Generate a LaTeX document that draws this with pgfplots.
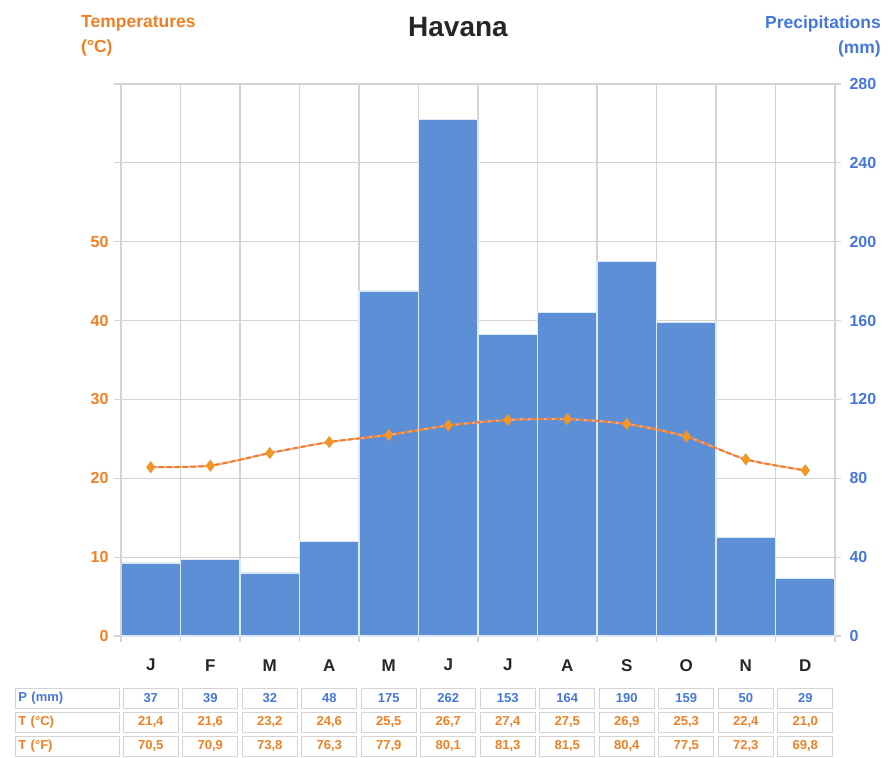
\documentclass[border=0pt]{standalone}
\usepackage{pgfplots}
\pgfplotsset{compat=1.18}
\usepackage{pgfplotstable}
\usepackage{fontspec}
\setmainfont{Liberation Sans}
\definecolor{tor}{RGB}{240,128,36}
\definecolor{tmk}{RGB}{242,150,40}
\definecolor{tsal}{RGB}{238,170,150}
\definecolor{pbar}{RGB}{92,143,214}
\definecolor{ptx}{RGB}{70,118,222}
\definecolor{gr}{RGB}{212,212,212}
\tikzset{cell/.style={draw=gr, line width=0.8pt, minimum width=55pt, minimum height=20pt, inner sep=0pt, font=\bfseries\fontsize{13}{15}\selectfont, anchor=center}}

\pgfplotstableread{
x P T F
0.5 37 21,4 70,5
1.5 39 21,6 70,9
2.5 32 23,2 73,8
3.5 48 24,6 76,3
4.5 175 25,5 77,9
5.5 262 26,7 80,1
6.5 153 27,4 81,3
7.5 164 27,5 81,5
8.5 190 26,9 80,4
9.5 159 25,3 77,5
10.5 50 22,4 72,3
11.5 29 21,0 69,8
}\tablelabels

\pgfplotstableread{
x P
0 37
1 39
2 32
3 48
4 175
5 262
6 153
7 164
8 190
9 159
10 50
11 29
12 29
}\precip

\pgfplotstableread{
x T
0.5 21.4
1.5 21.6
2.5 23.2
3.5 24.6
4.5 25.5
5.5 26.7
6.5 27.4
7.5 27.5
8.5 26.9
9.5 25.3
10.5 22.4
11.5 21.0
}\temp

\pgfplotstableread{
x m
0.5 J
1.5 F
2.5 M
3.5 A
4.5 M
5.5 J
6.5 J
7.5 A
8.5 S
9.5 O
10.5 N
11.5 D
}\months

\begin{document}
\begin{tikzpicture}
\path[use as bounding box] (0,0) rectangle (893pt,757pt);
\node[font=\bfseries\fontsize{28}{30}\selectfont, text=black!85] at (458pt,730pt) {Havana};
\node[anchor=west, font=\bfseries\fontsize{17.5}{25}\selectfont, text=tor, align=left, inner sep=0pt] at (81pt,721pt) {Temperatures\\(°C)};
\node[anchor=east, font=\bfseries\fontsize{17.5}{25}\selectfont, text=ptx, align=right, inner sep=0pt] at (881pt,721pt) {Precipitations\\(mm)};

\begin{axis}[
  at={(121pt,121pt)}, anchor=south west,
  scale only axis, width=714pt, height=552pt,
  xmin=0, xmax=12, ymin=0, ymax=280,
  axis y line*=right, axis x line*=bottom,
  axis line style={draw=gr, line width=1.2pt, -},
  xtick={0,...,12}, xticklabels={},
  ytick={0,40,...,280},
  grid=major,
  major grid style={draw=gr, line width=1.2pt},
  tick style={draw=gr, line width=1.2pt},
  tick align=outside, major tick length=6pt,
  /pgf/number format/assume math mode=true,
  yticklabel style={font=\bfseries\fontsize{16}{18}\selectfont, text=ptx, anchor=west, xshift=5pt},
  clip=false,
]
\addplot[ybar interval, fill=pbar, draw=white!80!pbar, line width=1.2pt] table[x=x,y=P] {\precip};
\draw[gr, line width=1.2pt] (axis cs:0,280) -- (axis cs:12,280);
\end{axis}

\begin{axis}[
  at={(121pt,121pt)}, anchor=south west,
  scale only axis, width=714pt, height=552pt,
  xmin=0, xmax=12, ymin=0, ymax=70,
  axis y line*=left, axis x line=none,
  axis line style={draw=gr, line width=1.2pt, -},
  ytick={0,10,...,70}, yticklabels={0,10,20,30,40,50,,},
  tick style={draw=gr, line width=1.2pt},
  tick align=outside, major tick length=7pt,
  yticklabel style={font=\bfseries\fontsize{16}{18}\selectfont, text=tor, xshift=-2pt},
  clip=false,
]
\addplot[tsal, line width=2pt, smooth, tension=0.4] table[x=x,y=T] {\temp};
\addplot[tor, line width=2pt, smooth, tension=0.4, dash pattern=on 5pt off 3pt, mark=diamond*, mark size=4.5pt, mark options={fill=tmk, draw=tmk, solid}] table[x=x,y=T] {\temp};

\addplot[draw=none, mark=none, point meta=explicit symbolic,
  nodes near coords, nodes near coords align=center,
  every node near coord/.style={anchor=center, font=\bfseries\fontsize{17}{19}\selectfont, text=black!85}]
  table[x=x, y expr=-3.7, meta=m] {\months};

\addplot[draw=none, mark=none, point meta=explicit symbolic,
  nodes near coords, nodes near coords align=center,
  every node near coord/.style={cell, text=ptx}]
  table[x=x, y expr=-7.85, meta=P] {\tablelabels};
\addplot[draw=none, mark=none, point meta=explicit symbolic,
  nodes near coords, nodes near coords align=center,
  every node near coord/.style={cell, text=tor}]
  table[x=x, y expr=-10.9, meta=T] {\tablelabels};
\addplot[draw=none, mark=none, point meta=explicit symbolic,
  nodes near coords, nodes near coords align=center,
  every node near coord/.style={cell, text=tor}]
  table[x=x, y expr=-13.95, meta=F] {\tablelabels};

\node[cell, minimum width=104pt, text width=98pt, align=left, text=ptx] at (axis cs:-0.9,-7.85) {P (mm)};
\node[cell, minimum width=104pt, text width=98pt, align=left, text=tor] at (axis cs:-0.9,-10.9) {T (°C)};
\node[cell, minimum width=104pt, text width=98pt, align=left, text=tor] at (axis cs:-0.9,-13.95) {T (°F)};
\end{axis}
\end{tikzpicture}
\end{document}
